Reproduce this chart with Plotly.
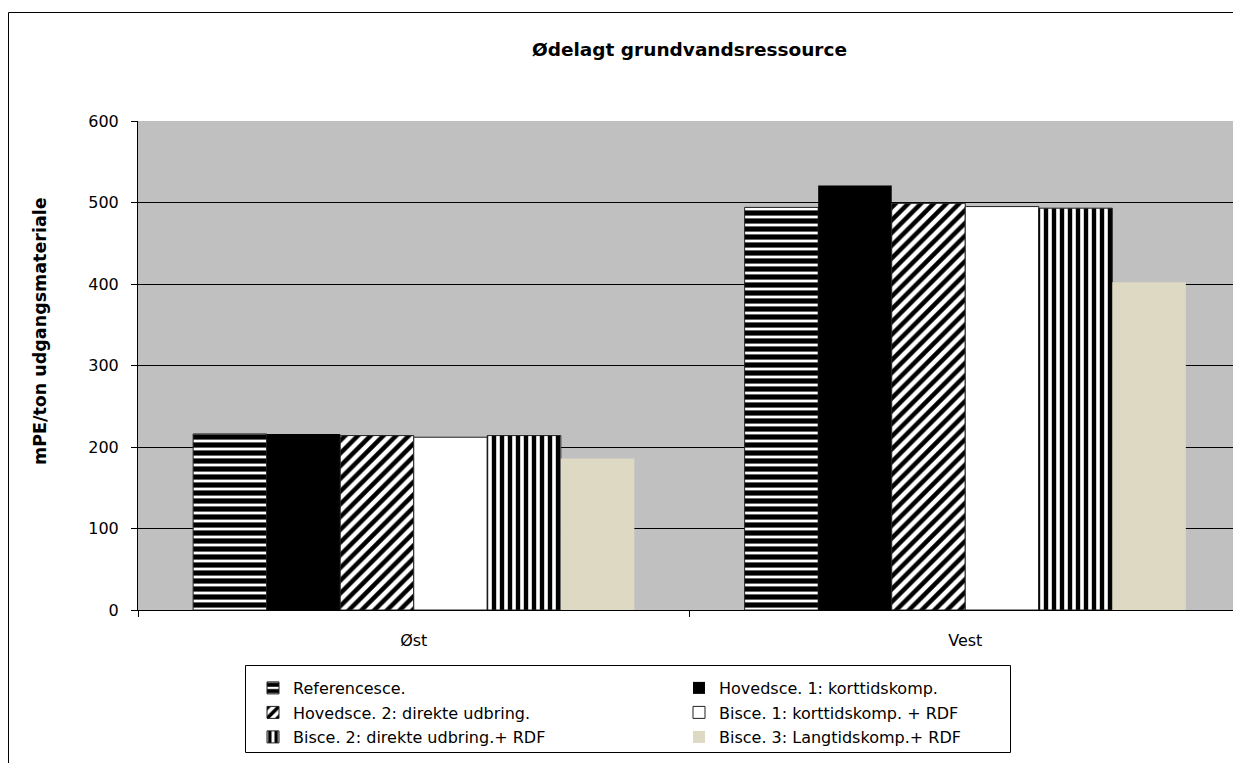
import plotly.graph_objects as go

# ---------------------------------------------------------------------------
# Data
# ---------------------------------------------------------------------------
categories = ["Øst", "Vest"]

series_names = [
    "Referencesce.",
    "Hovedsce. 1: korttidskomp.",
    "Hovedsce. 2: direkte udbring.",
    "Bisce. 1: korttidskomp. + RDF",
    "Bisce. 2: direkte udbring.+ RDF",
    "Bisce. 3: Langtidskomp.+ RDF",
]

referencesce = [216, 494]
hovedsce_1 = [216, 521]
hovedsce_2 = [214, 499]
bisce_1 = [212, 495]
bisce_2 = [214, 493]
bisce_3 = [186, 402]

series_values = [referencesce, hovedsce_1, hovedsce_2, bisce_1, bisce_2, bisce_3]

y_ticks = [0, 100, 200, 300, 400, 500, 600]

# ---------------------------------------------------------------------------
# Styling
# ---------------------------------------------------------------------------
FONT = "DejaVu Sans, Arial, sans-serif"


def _pat(shape, size, solidity):
    return dict(shape=shape, fgcolor="black", bgcolor="white", fgopacity=1,
                fillmode="replace", size=size, solidity=solidity)


styles = [
    dict(color="white", pattern=_pat("-", 8, 0.65), line=1),
    dict(color="black", pattern=None, line=0),
    dict(color="white", pattern=_pat("/", 9, 0.5), line=1),
    dict(color="white", pattern=None, line=1),
    dict(color="white", pattern=_pat("|", 8, 0.55), line=1),
    dict(color="#DDD9C3", pattern=None, line=0),
]

legend_ids = ["legend", "legend", "legend2", "legend2", "legend3", "legend3"]

# the page body adds an 8 px margin, so the figure is drawn 8 px in
OFF = 8
W, H = 1241 - OFF, 763 - OFF
# plot area in page pixels: x 138..1241, y 121..610
L, T = 138 - OFF, 121 - OFF
R, B = 0, H - (610 - OFF)
PW, PH = W - L - R, H - T - B


def px_x(px):
    return (px - OFF - L) / PW


def px_y(py):
    return (H - B - (py - OFF)) / PH


fig = go.Figure()
for name, vals, st, lg in zip(series_names, series_values, styles, legend_ids):
    marker = dict(color=st["color"], line=dict(color="#202020", width=st["line"]))
    if st["pattern"] is not None:
        marker["pattern"] = st["pattern"]
    fig.add_trace(go.Bar(x=categories, y=vals, name=name, marker=marker, legend=lg))

legend_common = dict(
    orientation="h",
    entrywidth=381,
    entrywidthmode="pixels",
    font=dict(family=FONT, size=16, color="black"),
    bgcolor="rgba(0,0,0,0)",
    borderwidth=0,
    xanchor="left",
    yanchor="middle",
    x=px_x(253),
)

fig.update_layout(
    width=W,
    height=H,
    margin=dict(l=L, r=R, t=T, b=B),
    paper_bgcolor="white",
    plot_bgcolor="#C0C0C0",
    barmode="group",
    bargap=0.2,
    bargroupgap=0,
    font=dict(family=FONT, size=16, color="black"),
    title=dict(
        text="<b>Ødelagt grundvandsressource</b>",
        font=dict(family=FONT, size=18.5, color="black"),
        x=0.5, xref="paper", xanchor="center",
        y=1 - (50 - OFF) / H, yanchor="middle",
    ),
    xaxis=dict(
        showline=True, linecolor="black", linewidth=1,
        ticks="outside", ticklen=6, tickcolor="black",
        tickson="boundaries",
        ticklabelstandoff=16,
        tickfont=dict(family=FONT, size=16),
        showgrid=False,
    ),
    yaxis=dict(
        range=[0, 600],
        tickvals=y_ticks,
        showline=True, linecolor="black", linewidth=1,
        ticks="outside", ticklen=6, tickcolor="black",
        ticklabelstandoff=9,
        showgrid=True, gridcolor="black", gridwidth=1,
        zeroline=False,
        tickfont=dict(family=FONT, size=16),
    ),
    annotations=[
        dict(text="<b>mPE/ton udgangsmateriale</b>", textangle=-90,
             xref="paper", yref="paper", x=px_x(40), y=px_y(331),
             xanchor="center", yanchor="middle", showarrow=False,
             font=dict(family=FONT, size=17.5, color="black")),
    ],
    legend=dict(legend_common, y=px_y(688)),
    legend2=dict(legend_common, y=px_y(712.5)),
    legend3=dict(legend_common, y=px_y(737)),
    shapes=[
        # outer chart border (left edge sits on the figure's first pixel column)
        dict(type="rect", xref="paper", yref="paper",
             x0=px_x(OFF + 0.5), x1=px_x(1260), y0=px_y(790), y1=px_y(12.5),
             line=dict(color="black", width=1), fillcolor="rgba(0,0,0,0)", layer="below"),
        # legend frame
        dict(type="rect", xref="paper", yref="paper",
             x0=px_x(245.5), x1=px_x(1010.5), y0=px_y(752.5), y1=px_y(665.5),
             line=dict(color="black", width=1), fillcolor="rgba(0,0,0,0)"),
    ],
)

fig.write_html("out.html")
